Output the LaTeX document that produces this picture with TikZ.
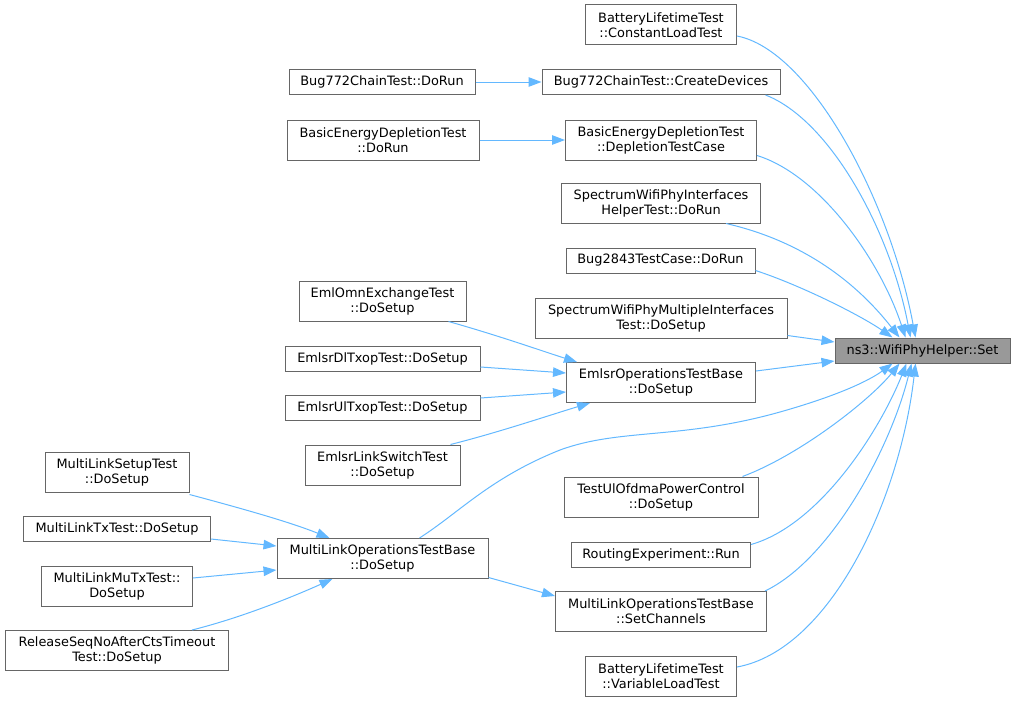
\documentclass[tikz,border=0pt]{standalone}
\usepackage{fontspec}
\setmainfont{DejaVu Sans}
\usetikzlibrary{arrows.meta}
\definecolor{edgeblue}{HTML}{63B8FF}
\definecolor{boxgrey}{HTML}{666666}
\definecolor{rootfill}{HTML}{999999}
\tikzset{
  fn/.style={draw=boxgrey, line width=1pt, fill=white, inner sep=0pt, align=center,
    font=\fontsize{12.9}{15}\selectfont},
  rootfn/.style={fn, fill=rootfill},
  call/.style={draw=edgeblue, line width=1pt, -{Triangle[length=13pt,width=9.5pt]}},
}
\begin{document}
\begin{tikzpicture}[x=1pt,y=-1pt]
\useasboundingbox (0,0) rectangle (1016,701);
% root
\node[rootfn, minimum width=175pt, minimum height=25pt] (set) at (922.5,350.5) {ns3::WifiPhyHelper::Set};
% middle column
\node[fn, minimum width=151pt, minimum height=40pt] (clt) at (661,25) {BatteryLifetimeTest\\::ConstantLoadTest};
\node[fn, minimum width=238pt, minimum height=25pt] (cd) at (661,82) {Bug772ChainTest::CreateDevices};
\node[fn, minimum width=191pt, minimum height=40pt] (dtc) at (661,140) {BasicEnergyDepletionTest\\::DepletionTestCase};
\node[fn, minimum width=199pt, minimum height=40pt] (swi) at (661,203) {SpectrumWifiPhyInterfaces\\HelperTest::DoRun};
\node[fn, minimum width=189pt, minimum height=25pt] (b2843) at (660.5,260.5) {Bug2843TestCase::DoRun};
\node[fn, minimum width=252pt, minimum height=40pt] (swm) at (661,318) {SpectrumWifiPhyMultipleInterfaces\\Test::DoSetup};
\node[fn, minimum width=189pt, minimum height=40pt] (eops) at (661,382.5) {EmlsrOperationsTestBase\\::DoSetup};
\node[fn, minimum width=194pt, minimum height=40pt] (ulo) at (661,497) {TestUlOfdmaPowerControl\\::DoSetup};
\node[fn, minimum width=179pt, minimum height=25pt] (rexp) at (661,554.5) {RoutingExperiment::Run};
\node[fn, minimum width=211pt, minimum height=40pt] (setch) at (661,611.5) {MultiLinkOperationsTestBase\\::SetChannels};
\node[fn, minimum width=151pt, minimum height=40pt] (vlt) at (661,676) {BatteryLifetimeTest\\::VariableLoadTest};
% second column
\node[fn, minimum width=186pt, minimum height=25pt] (b772) at (382,82) {Bug772ChainTest::DoRun};
\node[fn, minimum width=192pt, minimum height=40pt] (bed) at (383,140) {BasicEnergyDepletionTest\\::DoRun};
\node[fn, minimum width=167pt, minimum height=40pt] (eomn) at (382.5,301) {EmlOmnExchangeTest\\::DoSetup};
\node[fn, minimum width=195pt, minimum height=25pt] (edl) at (382.5,358.5) {EmlsrDlTxopTest::DoSetup};
\node[fn, minimum width=195pt, minimum height=25pt] (eul) at (382.5,407.5) {EmlsrUlTxopTest::DoSetup};
\node[fn, minimum width=155pt, minimum height=40pt] (els) at (382.5,465) {EmlsrLinkSwitchTest\\::DoSetup};
\node[fn, minimum width=211pt, minimum height=40pt] (mlops) at (382.5,558.5) {MultiLinkOperationsTestBase\\::DoSetup};
% first column
\node[fn, minimum width=144pt, minimum height=40pt] (mls) at (117,472) {MultiLinkSetupTest\\::DoSetup};
\node[fn, minimum width=187pt, minimum height=25pt] (mltx) at (117,529) {MultiLinkTxTest::DoSetup};
\node[fn, minimum width=151pt, minimum height=40pt] (mlmu) at (117,586.5) {MultiLinkMuTxTest::\\DoSetup};
\node[fn, minimum width=223pt, minimum height=40pt] (rel) at (117,650.5) {ReleaseSeqNoAfterCtsTimeout\\Test::DoSetup};

% edges into root
\draw[call] ([yshift=-11pt]clt.east) .. controls (810,50) and (890,200) .. ([xshift=81pt]set.north west);
\draw[call] ([xshift=-15pt]cd.south east) .. controls (830,120) and (890,230) .. ([xshift=76pt]set.north west);
\draw[call] ([yshift=5pt]dtc.south east) .. controls (820,175) and (880,260) .. ([xshift=71pt]set.north west);
\draw[call] ([xshift=-35pt]swi.south east) .. controls (820,245) and (870,300) .. ([xshift=65pt]set.north west);
\draw[call] ([yshift=3pt]b2843.south east) .. controls (800,285) and (860,315) .. ([xshift=58pt]set.north west);
\draw[call] ([yshift=3pt]swm.south east) -- ([yshift=8.5pt]set.west);
\draw[call] ([yshift=-9pt]eops.north east) -- ([yshift=-10.5pt]set.west);
\draw[call] ([xshift=37pt]mlops.north) .. controls (460,512) and (490,478) .. (560,450)
   .. controls (620,428) and (680,440) .. (780,412)
   .. controls (840,395) and (870,380) .. ([xshift=58pt]set.south west);
\draw[call] ([xshift=-16pt]ulo.north east) .. controls (800,455) and (870,400) .. ([xshift=65pt]set.south west);
\draw[call] ([yshift=-3pt]rexp.north east) .. controls (820,525) and (880,430) .. ([xshift=72pt]set.south west);
\draw[call] ([xshift=-2pt]setch.north east) .. controls (830,560) and (890,450) .. ([xshift=77pt]set.south west);
\draw[call] ([yshift=9pt]vlt.east) .. controls (830,650) and (900,500) .. ([xshift=81pt]set.south west);

% other edges
\draw[call] (b772.east) -- (cd.west);
\draw[call] (bed.east) -- (dtc.west);
\draw[call] ([xshift=-18pt]eomn.south east) .. controls (500,336) and (545,352) .. ([xshift=11pt]eops.north west);
\draw[call] ([yshift=-8.5pt]edl.east) -- ([yshift=9.5pt]eops.west);
\draw[call] ([yshift=9.5pt]eul.east) -- ([yshift=-9.5pt]eops.west);
\draw[call] ([xshift=-10pt]els.north east) .. controls (500,432) and (550,415) .. ([xshift=24pt]eops.south west);
\draw[call] ([yshift=-2pt]mls.south east) .. controls (240,508) and (290,522) .. ([xshift=53pt]mlops.north west);
\draw[call] ([yshift=-10pt]mltx.east) -- ([yshift=12.5pt]mlops.west);
\draw[call] ([yshift=8.5pt]mlmu.east) -- ([yshift=-11.5pt]mlops.west);
\draw[call] ([xshift=-37pt]rel.north east) .. controls (240,618) and (290,598) .. ([xshift=56pt]mlops.south west);
\draw[call] ([yshift=1.5pt]mlops.south east) -- ([yshift=15.5pt]setch.west);
\end{tikzpicture}
\end{document}
